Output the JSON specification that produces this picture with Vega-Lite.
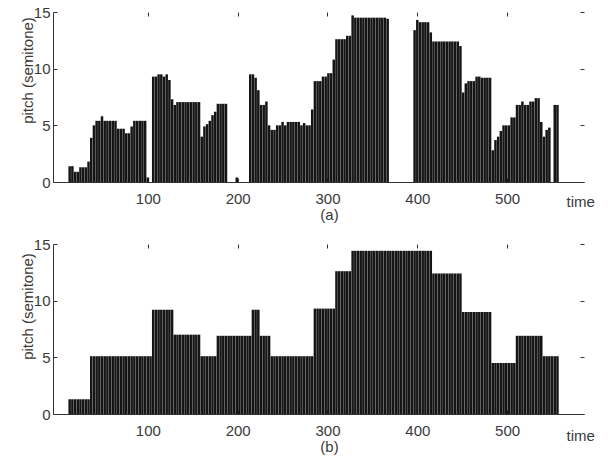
{
  "$schema": "https://vega.github.io/schema/vega-lite/v6.json",
  "padding": {"left": 19, "top": 5, "right": 5, "bottom": 3},
  "background": "white",
  "config": {
    "view": {"stroke": null},
    "font": "Liberation Sans",
    "axis": {"labelFont": "Liberation Sans", "labelFontSize": 15, "labelColor": "#3a3a3a", "titleFont": "Liberation Sans", "titleFontSize": 15, "titleFontWeight": "normal", "titleColor": "#3a3a3a", "domainColor": "#333", "tickColor": "#333", "grid": false},
    "title": {"font": "Liberation Sans", "fontSize": 15, "fontWeight": "normal", "color": "#3a3a3a"},
    "concat": {"spacing": 14}
  },
  "data": {"values": [
    {"t":13,"a":1.4,"b":1.3},{"t":16,"a":1.4,"b":1.3},{"t":19,"a":0.9,"b":1.3},{"t":22,"a":0.9,"b":1.3},{"t":25,"a":1.3,"b":1.3},{"t":28,"a":1.3,"b":1.3},{"t":31,"a":1.3,"b":1.3},{"t":34,"a":1.8,"b":1.3},
    {"t":37,"a":3.9,"b":5.1},{"t":40,"a":5.0,"b":5.1},{"t":43,"a":5.4,"b":5.1},{"t":46,"a":5.4,"b":5.1},{"t":49,"a":5.8,"b":5.1},{"t":52,"a":5.4,"b":5.1},{"t":55,"a":5.4,"b":5.1},{"t":58,"a":5.4,"b":5.1},{"t":61,"a":5.4,"b":5.1},{"t":64,"a":5.4,"b":5.1},{"t":67,"a":4.7,"b":5.1},{"t":70,"a":4.7,"b":5.1},{"t":73,"a":4.7,"b":5.1},{"t":76,"a":4.3,"b":5.1},{"t":79,"a":4.3,"b":5.1},{"t":82,"a":4.9,"b":5.1},{"t":85,"a":5.4,"b":5.1},{"t":88,"a":5.4,"b":5.1},{"t":91,"a":5.4,"b":5.1},{"t":94,"a":5.4,"b":5.1},{"t":97,"a":5.4,"b":5.1},{"t":100,"a":0.4,"b":5.1},{"t":103,"a":null,"b":5.1},
    {"t":106,"a":9.3,"b":9.2},{"t":109,"a":9.3,"b":9.2},{"t":112,"a":9.5,"b":9.2},{"t":115,"a":9.5,"b":9.2},{"t":118,"a":9.3,"b":9.2},{"t":121,"a":9.5,"b":9.2},{"t":124,"a":9.0,"b":9.2},{"t":127,"a":7.3,"b":9.2},
    {"t":130,"a":6.8,"b":7.0},{"t":133,"a":7.05,"b":7.0},{"t":136,"a":7.05,"b":7.0},{"t":139,"a":7.05,"b":7.0},{"t":142,"a":7.05,"b":7.0},{"t":145,"a":7.05,"b":7.0},{"t":148,"a":7.05,"b":7.0},{"t":151,"a":7.05,"b":7.0},{"t":154,"a":7.05,"b":7.0},{"t":157,"a":7.05,"b":7.0},
    {"t":160,"a":4.0,"b":5.1},{"t":163,"a":4.9,"b":5.1},{"t":166,"a":5.1,"b":5.1},{"t":169,"a":5.4,"b":5.1},{"t":172,"a":5.9,"b":5.1},{"t":175,"a":6.2,"b":5.1},
    {"t":178,"a":6.9,"b":6.9},{"t":181,"a":6.9,"b":6.9},{"t":184,"a":6.9,"b":6.9},{"t":187,"a":6.9,"b":6.9},{"t":190,"a":null,"b":6.9},{"t":193,"a":null,"b":6.9},{"t":196,"a":null,"b":6.9},{"t":199,"a":0.4,"b":6.9},{"t":202,"a":null,"b":6.9},{"t":205,"a":null,"b":6.9},{"t":208,"a":null,"b":6.9},{"t":211,"a":null,"b":6.9},{"t":214,"a":9.5,"b":6.9},
    {"t":217,"a":9.5,"b":9.2},{"t":220,"a":9.2,"b":9.2},{"t":223,"a":8.1,"b":9.2},
    {"t":226,"a":6.8,"b":6.9},{"t":229,"a":6.8,"b":6.9},{"t":232,"a":7.1,"b":6.9},{"t":235,"a":5.0,"b":6.9},
    {"t":238,"a":4.6,"b":5.1},{"t":241,"a":4.6,"b":5.1},{"t":244,"a":5.0,"b":5.1},{"t":247,"a":5.0,"b":5.1},{"t":250,"a":5.3,"b":5.1},{"t":253,"a":5.0,"b":5.1},{"t":256,"a":5.3,"b":5.1},{"t":259,"a":5.3,"b":5.1},{"t":262,"a":5.3,"b":5.1},{"t":265,"a":5.3,"b":5.1},{"t":268,"a":5.3,"b":5.1},{"t":271,"a":5.0,"b":5.1},{"t":274,"a":5.2,"b":5.1},{"t":277,"a":5.0,"b":5.1},{"t":280,"a":5.0,"b":5.1},{"t":283,"a":6.4,"b":5.1},
    {"t":286,"a":8.9,"b":9.3},{"t":289,"a":8.9,"b":9.3},{"t":292,"a":8.9,"b":9.3},{"t":295,"a":9.3,"b":9.3},{"t":298,"a":9.3,"b":9.3},{"t":301,"a":9.6,"b":9.3},{"t":304,"a":9.6,"b":9.3},{"t":307,"a":10.8,"b":9.3},
    {"t":310,"a":12.6,"b":12.6},{"t":313,"a":12.6,"b":12.6},{"t":316,"a":12.6,"b":12.6},{"t":319,"a":12.6,"b":12.6},{"t":322,"a":12.9,"b":12.6},{"t":325,"a":12.9,"b":12.6},
    {"t":328,"a":14.7,"b":14.4},{"t":331,"a":14.5,"b":14.4},{"t":334,"a":14.5,"b":14.4},{"t":337,"a":14.5,"b":14.4},{"t":340,"a":14.5,"b":14.4},{"t":343,"a":14.5,"b":14.4},{"t":346,"a":14.5,"b":14.4},{"t":349,"a":14.5,"b":14.4},{"t":352,"a":14.5,"b":14.4},{"t":355,"a":14.5,"b":14.4},{"t":358,"a":14.5,"b":14.4},{"t":361,"a":14.5,"b":14.4},{"t":364,"a":14.5,"b":14.4},{"t":367,"a":14.4,"b":14.4},
    {"t":370,"a":null,"b":14.4},{"t":373,"a":null,"b":14.4},{"t":376,"a":null,"b":14.4},{"t":379,"a":null,"b":14.4},{"t":382,"a":null,"b":14.4},{"t":385,"a":null,"b":14.4},{"t":388,"a":null,"b":14.4},{"t":391,"a":null,"b":14.4},{"t":394,"a":null,"b":14.4},
    {"t":397,"a":13.4,"b":14.4},{"t":400,"a":14.3,"b":14.4},{"t":403,"a":14.1,"b":14.4},{"t":406,"a":14.1,"b":14.4},{"t":409,"a":14.1,"b":14.4},{"t":412,"a":14.1,"b":14.4},{"t":415,"a":13.2,"b":14.4},
    {"t":418,"a":12.4,"b":12.4},{"t":421,"a":12.4,"b":12.4},{"t":424,"a":12.4,"b":12.4},{"t":427,"a":12.4,"b":12.4},{"t":430,"a":12.4,"b":12.4},{"t":433,"a":12.4,"b":12.4},{"t":436,"a":12.4,"b":12.4},{"t":439,"a":12.4,"b":12.4},{"t":442,"a":12.4,"b":12.4},{"t":445,"a":12.4,"b":12.4},{"t":448,"a":12.0,"b":12.4},
    {"t":451,"a":7.9,"b":9.0},{"t":454,"a":8.7,"b":9.0},{"t":457,"a":8.9,"b":9.0},{"t":460,"a":8.9,"b":9.0},{"t":463,"a":8.9,"b":9.0},{"t":466,"a":9.3,"b":9.0},{"t":469,"a":9.3,"b":9.0},{"t":472,"a":9.2,"b":9.0},{"t":475,"a":9.2,"b":9.0},{"t":478,"a":9.2,"b":9.0},{"t":481,"a":9.2,"b":9.0},
    {"t":484,"a":2.8,"b":4.5},{"t":487,"a":3.7,"b":4.5},{"t":490,"a":4.0,"b":4.5},{"t":493,"a":4.5,"b":4.5},{"t":496,"a":5.0,"b":4.5},{"t":499,"a":5.0,"b":4.5},{"t":502,"a":5.0,"b":4.5},{"t":505,"a":5.7,"b":4.5},{"t":508,"a":5.7,"b":4.5},
    {"t":511,"a":6.8,"b":6.9},{"t":514,"a":6.8,"b":6.9},{"t":517,"a":7.1,"b":6.9},{"t":520,"a":6.8,"b":6.9},{"t":523,"a":6.8,"b":6.9},{"t":526,"a":7.1,"b":6.9},{"t":529,"a":7.1,"b":6.9},{"t":532,"a":7.4,"b":6.9},{"t":535,"a":7.4,"b":6.9},{"t":538,"a":5.3,"b":6.9},
    {"t":541,"a":4.0,"b":5.1},{"t":544,"a":4.6,"b":5.1},{"t":547,"a":4.8,"b":5.1},{"t":550,"a":null,"b":5.1},{"t":553,"a":6.8,"b":5.1},{"t":556,"a":6.8,"b":5.1}
  ]},
  "vconcat": [
    {
      "width": 531, "height": 170,
      "title": {"text": "(a)", "orient": "bottom", "anchor": "middle", "dx": 11, "offset": -1},
      "layer": [
        {"mark": {"type": "bar", "size": 2.5, "color": "#151515"},
         "encoding": {
           "x": {"field": "t", "type": "quantitative", "scale": {"domain": [0, 580], "nice": false, "zero": false},
                 "axis": {"orient": "bottom", "values": [100, 200, 300, 400, 500], "tickSize": -4, "labelPadding": 13, "title": "time", "titleX": 513, "titleY": 19, "titleAlign": "left", "titleBaseline": "middle", "titleAngle": 0}},
           "y": {"field": "a", "type": "quantitative", "scale": {"domain": [0, 15], "nice": false},
                 "axis": {"orient": "left", "values": [0, 5, 10, 15], "tickSize": -4, "labelPadding": 7, "title": "pitch (semitone)", "titleX": -26, "titleY": 58, "titleAngle": -90, "titleAlign": "center", "titleBaseline": "middle"}}
         }},
        {"mark": {"type": "bar", "size": 2.5, "opacity": 0},
         "encoding": {
           "x": {"field": "t", "type": "quantitative", "scale": {"domain": [0, 580], "nice": false, "zero": false},
                 "axis": {"orient": "top", "values": [100, 200, 300, 400, 500], "tickSize": -4, "labels": false, "domain": false, "title": null}},
           "y": {"field": "a", "type": "quantitative", "scale": {"domain": [0, 15], "nice": false},
                 "axis": {"orient": "right", "values": [0, 5, 10, 15], "tickSize": -4, "labels": false, "domain": false, "title": null}}
         }}
      ],
      "resolve": {"axis": {"x": "independent", "y": "independent"}}
    },
    {
      "width": 531, "height": 170,
      "title": {"text": "(b)", "orient": "bottom", "anchor": "middle", "dx": 11, "offset": -3},
      "layer": [
        {"mark": {"type": "bar", "size": 2.5, "color": "#151515"},
         "encoding": {
           "x": {"field": "t", "type": "quantitative", "scale": {"domain": [0, 580], "nice": false, "zero": false},
                 "axis": {"orient": "bottom", "values": [100, 200, 300, 400, 500], "tickSize": -4, "labelPadding": 13, "title": "time", "titleX": 513, "titleY": 21, "titleAlign": "left", "titleBaseline": "middle", "titleAngle": 0}},
           "y": {"field": "b", "type": "quantitative", "scale": {"domain": [0, 15], "nice": false},
                 "axis": {"orient": "left", "values": [0, 5, 10, 15], "tickSize": -4, "labelPadding": 7, "title": "pitch (semitone)", "titleX": -26, "titleY": 62, "titleAngle": -90, "titleAlign": "center", "titleBaseline": "middle"}}
         }},
        {"mark": {"type": "bar", "size": 2.5, "opacity": 0},
         "encoding": {
           "x": {"field": "t", "type": "quantitative", "scale": {"domain": [0, 580], "nice": false, "zero": false},
                 "axis": {"orient": "top", "values": [100, 200, 300, 400, 500], "tickSize": -4, "labels": false, "domain": false, "title": null}},
           "y": {"field": "b", "type": "quantitative", "scale": {"domain": [0, 15], "nice": false},
                 "axis": {"orient": "right", "values": [0, 5, 10, 15], "tickSize": -4, "labels": false, "domain": false, "title": null}}
         }}
      ],
      "resolve": {"axis": {"x": "independent", "y": "independent"}}
    }
  ]
}
